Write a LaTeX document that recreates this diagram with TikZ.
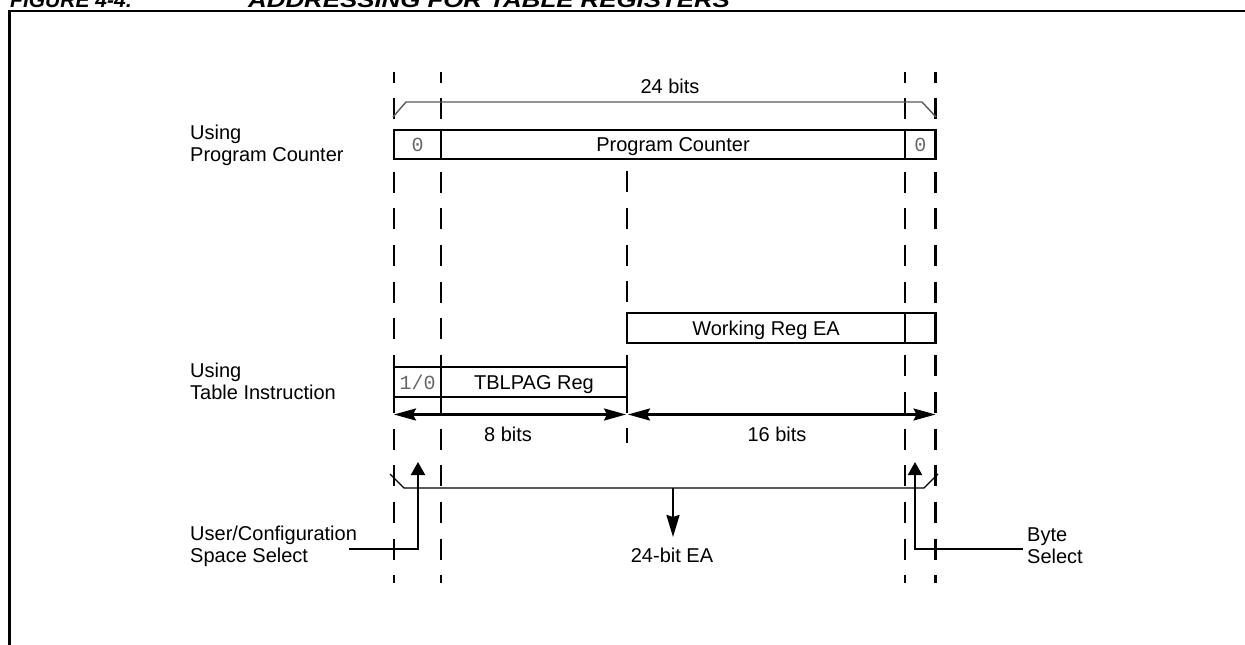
\documentclass[tikz,border=0pt]{standalone}
\usepackage{fontspec}
\setmainfont{Liberation Sans}
\setmonofont{Liberation Mono}
\usetikzlibrary{arrows.meta}
\begin{document}
\begin{tikzpicture}[x=1pt,y=-1pt,
  reg/.style={draw, line width=2.2pt, minimum height=29pt, inner sep=0pt, text height=14.3pt, text depth=0pt, font=\fontsize{20}{24}\selectfont},
  bitcell/.style={reg, text=black!60, font=\ttfamily\fontsize{20}{24}\selectfont},
  guide/.style={line width=2.2pt, dash pattern=on 21pt off 15.7pt, dash phase=10.5pt},
  guidemid/.style={line width=2.2pt, dash pattern=on 21pt off 15.7pt},
  lbl/.style={font=\fontsize{20}{22}\selectfont, align=left, inner sep=0pt},
  txt/.style={font=\fontsize{20}{24}\selectfont, inner sep=0pt, text height=14.3pt, text depth=0pt},
  ttl/.style={font=\bfseries\itshape\fontsize{21}{24}\selectfont, inner sep=0pt, anchor=base west},
  dim/.style={line width=2.2pt, {Stealth[length=22pt,width=12pt,inset=3pt]}-{Stealth[length=22pt,width=12pt,inset=3pt]}},
  sel/.style={line width=2.2pt, -{Triangle[length=13pt,width=14pt]}},
  span/.style={line width=1.4pt, black!65},
  easpan/.style={line width=1.1pt},
  down/.style={line width=2.2pt, -{Stealth[length=22pt,width=13pt,inset=2pt]}}
]
\useasboundingbox (0,0) rectangle (1245,645);
\clip (0,0) rectangle (1245,645);

% title (clipped at top) and frame
\node[ttl] (fig) at (10,8) {FIGURE 4-4:};
\node[ttl, xscale=1.23] (title) at (248,8) {ADDRESSING FOR TABLE REGISTERS};
\draw[line width=2.4pt] (9.5,700) -- (9.5,11.2) -- (1300,11.2);

% guide lines
\foreach \gx in {394,441,905,935.5} \draw[guide] (\gx,72) -- (\gx,583);
\draw[guidemid] (627,171.3) -- (627,443);

% 24 bits span
\coordinate (s1) at (393,117);
\coordinate (s2) at (406,102);
\coordinate (s3) at (922,102);
\coordinate (s4) at (936,117);
\draw[span] (s1) -- (s2) -- (s3) -- (s4);
\node[txt] (b24) at (670,86) {24 bits};

% Program counter row
\node[lbl, anchor=west] (upc) at (190,145) {Using\\Program Counter};
\node[bitcell, minimum width=47pt] (pc0) at (417.5,144.5) {0};
\node[reg, minimum width=464pt] (pc) at (673,144.5) {Program Counter};
\node[bitcell, minimum width=30.5pt] (pc1) at (920.25,144.5) {0};

% Working reg
\node[reg, minimum width=278pt, minimum height=30pt] (wr) at (766,328) {Working Reg EA};
\node[reg, minimum width=30.5pt, minimum height=30pt] (wr1) at (920.25,328) {};

% Table instruction row
\node[lbl, anchor=west] (uti) at (190,381) {Using\\Table Instruction};
\node[bitcell, minimum width=47pt, minimum height=30pt] (tb0) at (417.5,382) {1/0};
\node[reg, minimum width=186pt, minimum height=30pt] (tb) at (534,382) {TBLPAG Reg};

% bit width arrows
\coordinate (d8a) at (394,414.5);
\coordinate (d8b) at (626,414.5);
\coordinate (d16a) at (628,414.5);
\coordinate (d16b) at (935.5,414.5);
\draw[dim] (d8a) -- (d8b);
\draw[dim] (d16a) -- (d16b);
\node[txt] (b8) at (508,434) {8 bits};
\node[txt] (b16) at (777,434) {16 bits};

% 24-bit EA span
\coordinate (e1) at (390,474);
\coordinate (e2) at (404,488);
\coordinate (e3) at (924,488);
\coordinate (e4) at (938,474);
\draw[easpan] (e1) -- (e2) -- (e3) -- (e4);
\coordinate (eatop) at (673,488);
\coordinate (eatip) at (673,537);
\draw[down] (eatop) -- (eatip);
\node[txt] (ea) at (672,555) {24-bit EA};

% select inputs
\node[lbl, anchor=west] (ucs) at (190,546) {User/Configuration\\Space Select};
\coordinate (u1) at (349,549);
\coordinate (u2) at (418,549);
\coordinate (u3) at (418,462);
\draw[sel] (u1) -- (u2) -- (u3);

\node[lbl, anchor=west] (bs) at (1027,546) {Byte\\Select};
\coordinate (v1) at (1022.7,549);
\coordinate (v2) at (915,549);
\coordinate (v3) at (915,462);
\draw[sel] (v1) -- (v2) -- (v3);
\end{tikzpicture}
\end{document}
